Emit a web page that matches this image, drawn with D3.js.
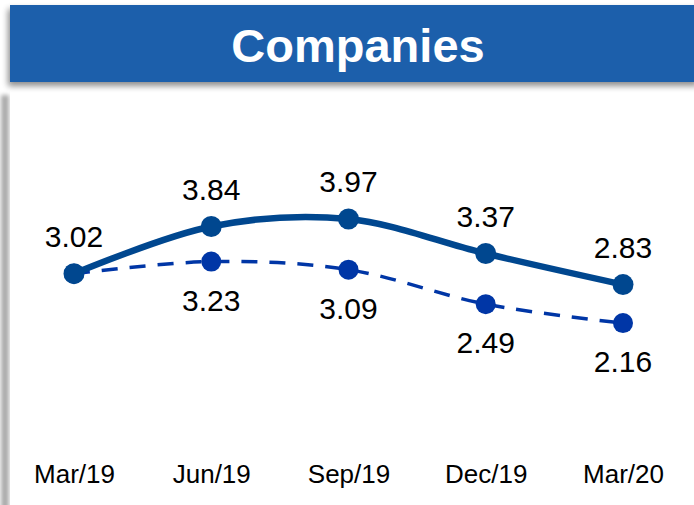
<!DOCTYPE html>
<html><head><meta charset="utf-8">
<script src="https://cdn.jsdelivr.net/npm/d3@7"></script>
<style>html,body{margin:0;padding:0;background:#fff;overflow:hidden}</style>
</head><body>
<svg id="c" width="694" height="505"></svg>
<script>
const categories = ["Mar/19","Jun/19","Sep/19","Dec/19","Mar/20"];
const solidValues = [3.02, 3.84, 3.97, 3.37, 2.83];
const dashedValues = [3.02, 3.23, 3.09, 2.49, 2.16];
const solidLabels = ["3.02","3.84","3.97","3.37","2.83"];
const dashedLabels = [null,"3.23","3.09","2.49","2.16"];
const title = "Companies";

const svg = d3.select("#c");
const defs = svg.append("defs");
const f = defs.append("filter").attr("id","sh").attr("x","-5%").attr("y","-20%").attr("width","110%").attr("height","150%");
f.append("feGaussianBlur").attr("in","SourceAlpha").attr("stdDeviation",3);
f.append("feOffset").attr("dx",-2).attr("dy",4).attr("result","b");
f.append("feComponentTransfer").append("feFuncA").attr("type","linear").attr("slope",0.45);
const m = f.append("feMerge"); m.append("feMergeNode"); m.append("feMergeNode").attr("in","SourceGraphic");
const f2 = defs.append("filter").attr("id","sh2").attr("x","-100%").attr("y","-5%").attr("width","300%").attr("height","110%");
f2.append("feGaussianBlur").attr("stdDeviation",2);

// left panel shadow
svg.append("rect").attr("x",1).attr("y",95).attr("width",8).attr("height",420).attr("fill","#aaaaaa").attr("filter","url(#sh2)");
svg.append("rect").attr("x",10).attr("y",90).attr("width",684).attr("height",420).attr("fill","#fff");

// header
svg.append("rect").attr("x",10).attr("y",5).attr("width",690).attr("height",77).attr("fill","#1c5eab").attr("filter","url(#sh)");
svg.append("text").attr("x",358).attr("y",62).attr("text-anchor","middle")
  .attr("font-family","Liberation Sans, Arial, sans-serif").attr("font-weight","bold").attr("font-size",47)
  .attr("fill","#fff").text(title);

const x = d3.scalePoint().domain(categories).range([74, 623]);
const y = d3.scaleLinear().domain([0, 4]).range([447.3, 217.3]);

const line = d3.line().x((d,i)=>x(categories[i])).y(d=>y(d)).curve(d3.curveCardinal);

svg.append("path").datum(dashedValues).attr("d",line).attr("fill","none")
  .attr("stroke","#0036a6").attr("stroke-width",3.5).attr("stroke-dasharray","16,12");
svg.append("path").datum(solidValues).attr("d",line).attr("fill","none")
  .attr("stroke","#00478f").attr("stroke-width",6.5).attr("stroke-linecap","round");

svg.selectAll(".dd").data(dashedValues).enter().append("circle")
  .attr("cx",(d,i)=>x(categories[i])).attr("cy",d=>y(d)).attr("r",10).attr("fill","#0036a6");
svg.selectAll(".sd").data(solidValues).enter().append("circle")
  .attr("cx",(d,i)=>x(categories[i])).attr("cy",d=>y(d)).attr("r",10.5).attr("fill","#00478f");

const font = "Liberation Sans, Arial, sans-serif";
svg.selectAll(".sl").data(solidValues).enter().append("text")
  .attr("x",(d,i)=>x(categories[i])).attr("y",d=>y(d)-27).attr("text-anchor","middle")
  .attr("font-family",font).attr("font-size",30).attr("fill","#000").text((d,i)=>solidLabels[i]);
svg.selectAll(".dl").data(dashedValues).enter().filter((d,i)=>dashedLabels[i]!==null).append("text")
  .attr("x",(d,i)=>x(categories[i+1])).attr("y",d=>y(d)+49).attr("text-anchor","middle")
  .attr("font-family",font).attr("font-size",30).attr("fill","#000").text((d,i)=>dashedLabels[i+1]);

const xa = svg.append("g").attr("transform","translate(0,483)").call(d3.axisBottom(x).tickSize(0).tickPadding(0));
xa.select(".domain").remove();
xa.attr("font-family",font).attr("font-size",26);
xa.selectAll("text").attr("fill","#000").attr("dy",0).style("font-weight","normal");
</script>
</body></html>
